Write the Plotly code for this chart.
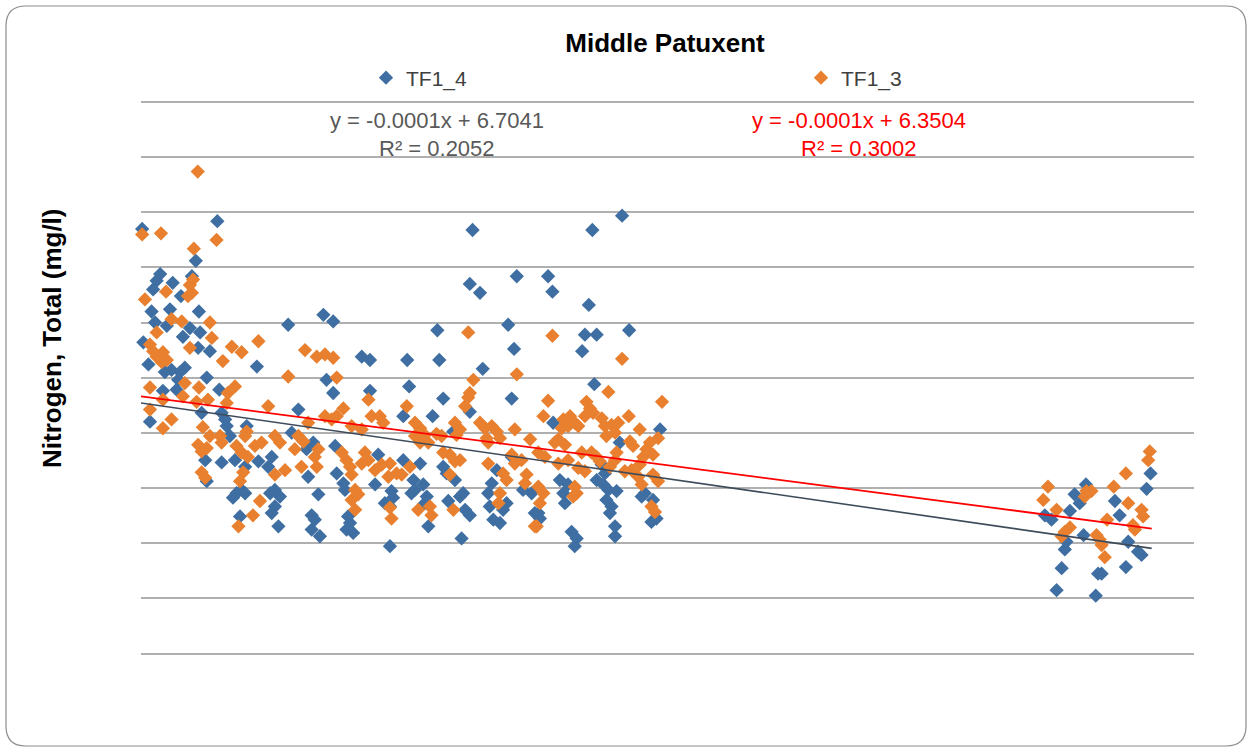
import plotly.graph_objects as go

# ---------------- data (x = decimal year, y = total nitrogen, mg/l) ----------------
tf1_4_x = [
    1986.74, 1988.66, 1988.11, 1987.20, 1987.11, 1987.02, 1987.52, 1987.73, 1988.01, 1986.98,
    1987.45, 1988.19, 1987.07, 1987.37, 1987.96, 1988.22, 1987.78, 1986.77, 1988.17, 1988.47,
    1989.67, 1986.90, 1987.32, 1987.49, 1987.71, 1987.83, 1987.66, 1988.39, 1987.27, 1987.62,
    1988.71, 1986.94, 1988.26, 1988.77, 1988.86, 1988.90, 1988.98, 1989.41, 1988.35, 1989.11,
    1989.37, 1988.77, 1989.71, 1988.39, 1989.15, 1989.28, 1989.37, 1989.06, 1989.24,
    1990.47, 1991.37, 1991.62, 1992.35, 1992.56, 1991.45, 1991.62, 1992.56, 1990.73, 1990.56,
    1991.11, 1990.94, 1991.67, 1992.77, 1990.05, 1989.96, 1990.98, 1991.71, 1991.88, 1991.92,
    1992.69, 1990.01, 1990.13, 1990.26, 1990.13, 1990.05, 1990.22, 1991.24, 1993.11, 1993.15,
    1993.07, 1992.94, 1991.07, 1991.15, 1991.07, 1991.28, 1992.00, 1992.05, 1991.96, 1992.13,
    1993.07,
    1995.18, 1995.11, 1995.37, 1996.31, 1994.28, 1996.09, 1996.24, 1993.51, 1994.33, 1995.44,
    1993.56, 1994.43, 1996.18, 1993.41, 1994.16, 1995.11, 1994.69, 1993.41, 1993.84, 1994.43,
    1994.52, 1994.73, 1993.67, 1993.71, 1993.62, 1993.92, 1994.01, 1993.96, 1994.05, 1994.56,
    1994.86, 1994.99, 1995.11, 1994.94, 1994.90, 1995.80, 1995.67, 1995.58, 1995.62, 1995.71,
    1995.96, 1996.05, 1995.88, 1996.47, 1996.69, 1996.77, 1996.18,
    1999.00, 1998.24, 1997.11, 1997.22, 1998.15, 1998.05, 1998.35, 1999.18, 1997.98, 1998.29,
    1997.24, 1999.97, 1998.94, 1998.48, 1998.56, 1998.35, 1998.52, 1998.65, 1998.86, 1997.41,
    1997.62, 1997.50, 1997.54, 1998.60, 1998.73, 1998.69, 1999.58, 1999.50, 1999.79, 1999.75,
    1999.88, 1996.86, 1996.90, 1998.82, 1998.82, 1997.71, 1997.84, 1997.79,
    2012.50, 2012.40, 2010.85, 2010.56, 2010.69, 2011.59, 2011.71, 2009.80, 2009.97, 2010.44,
    2010.79, 2010.35, 2010.31, 2011.93, 2012.18, 2012.27, 2010.23, 2011.16, 2011.25, 2011.87,
    2010.10, 2011.10,
]
tf1_4_y = [
    3.85, 3.92, 3.56, 3.44, 3.38, 3.30, 3.36, 3.24, 3.42, 3.10,
    3.12, 3.10, 3.00, 2.97, 2.95, 2.91, 2.87, 2.82, 2.77, 2.74,
    2.60, 2.62, 2.55, 2.57, 2.55, 2.59, 2.48, 2.50, 2.38, 2.39,
    2.39, 2.10, 2.18, 2.18, 2.12, 2.06, 1.97, 2.06, 1.75, 1.75,
    1.69, 1.73, 1.74, 1.56, 1.45, 1.48, 1.45, 1.41, 1.24,
    2.98, 3.07, 3.01, 2.69, 2.66, 2.48, 2.36, 2.38, 2.21, 2.00,
    1.91, 1.85, 1.88, 1.80, 1.78, 1.69, 1.60, 1.63, 1.54, 1.48,
    1.53, 1.45, 1.48, 1.42, 1.33, 1.27, 1.15, 1.44, 1.47, 1.41,
    1.33, 1.36, 1.25, 1.21, 1.12, 1.06, 1.24, 1.18, 1.12, 1.09,
    0.97,
    3.84, 3.35, 3.27, 3.42, 2.93, 2.98, 2.76, 2.66, 2.66, 2.58,
    2.42, 2.31, 2.31, 2.15, 2.15, 2.19, 2.01, 1.75, 1.72, 1.69,
    1.63, 1.57, 1.57, 1.48, 1.45, 1.53, 1.42, 1.36, 1.15, 1.38,
    1.42, 1.30, 1.25, 1.45, 1.04, 1.66, 1.54, 1.45, 1.33, 1.21,
    1.30, 1.36, 1.18, 1.48, 1.45, 1.27, 1.78,
    3.97, 3.84, 3.42, 3.28, 3.16, 2.89, 2.89, 2.93, 2.74, 2.44,
    2.09, 2.03, 1.91, 1.71, 1.63, 1.57, 1.53, 1.48, 1.47, 1.57,
    1.53, 1.45, 1.36, 1.39, 1.33, 1.27, 1.45, 1.42, 1.39, 1.19,
    1.22, 1.27, 1.22, 1.15, 1.06, 1.10, 1.04, 0.97,
    1.63, 1.49, 1.53, 1.44, 1.36, 1.38, 1.25, 1.25, 1.21, 1.29,
    1.07, 1.01, 0.94, 1.01, 0.92, 0.89, 0.77, 0.72, 0.72, 0.78,
    0.57, 0.52,
]

tf1_3_x = [
    1988.16, 1986.74, 1987.22, 1988.64, 1988.06, 1987.35, 1986.81, 1987.96, 1988.04, 1988.01,
    1987.91, 1987.49, 1987.75, 1988.47, 1987.11, 1988.52, 1986.94, 1987.02, 1987.11, 1987.27,
    1987.24, 1987.37, 1987.96, 1989.03, 1989.28, 1989.71, 1988.80, 1986.94, 1987.83, 1988.19,
    1989.11, 1988.93, 1988.90, 1987.27, 1987.78, 1988.13, 1988.42, 1986.94, 1987.27, 1987.49,
    1988.29, 1988.47, 1988.73, 1988.77, 1989.37, 1989.41, 1988.17, 1988.26, 1988.39, 1989.15,
    1989.28, 1989.44, 1989.62, 1989.79, 1988.26, 1988.35, 1989.32, 1989.24, 1989.75, 1989.57,
    1989.20,
    1990.90, 1991.20, 1991.41, 1991.62, 1990.47, 1991.71, 1992.52, 1989.96, 1991.88, 1991.41,
    1991.58, 1991.71, 1990.98, 1992.60, 1992.81, 1992.90, 1992.09, 1992.35, 1990.13, 1990.26,
    1990.73, 1990.86, 1990.64, 1991.24, 1991.15, 1991.20, 1991.84, 1991.96, 1992.05, 1992.09,
    1992.43, 1992.35, 1992.52, 1990.39, 1990.13, 1990.81, 1992.69, 1992.86, 1993.07, 1993.24,
    1993.03, 1992.18, 1992.26, 1992.09, 1992.18, 1993.07, 1993.11,
    1995.07, 1996.31, 1995.20, 1995.07, 1994.99, 1995.11, 1993.50, 1993.71, 1993.84, 1993.96,
    1993.71, 1994.05, 1993.84, 1994.26, 1994.39, 1994.73, 1994.86, 1994.77, 1995.37, 1995.50,
    1995.67, 1995.80, 1995.88, 1995.54, 1995.58, 1996.26, 1996.65, 1994.43, 1994.60, 1994.73,
    1994.86, 1995.58, 1996.18, 1993.58, 1993.37, 1994.60, 1993.79, 1994.09, 1994.13, 1994.69,
    1995.96, 1996.05, 1995.88, 1995.84, 1996.26, 1996.43, 1996.56, 1996.52, 1996.77,
    1997.22, 1999.00, 1998.65, 1997.11, 2000.02, 1998.09, 1998.18, 1998.26, 1998.05, 1996.99,
    1997.50, 1997.67, 1997.79, 1997.62, 1997.46, 1997.88, 1998.48, 1998.56, 1998.73, 1998.90,
    1998.60, 1998.82, 1999.17, 1999.45, 1999.92, 1997.28, 1997.54, 1997.37, 1999.71, 1999.62,
    1999.79, 1999.54, 1999.45, 1999.20, 1999.28, 1997.97, 1998.22, 1998.35, 1998.43, 1996.86,
    1997.03, 1998.86, 1998.82, 1998.69, 1997.37, 1997.62, 1997.88, 1998.05, 1999.07, 1999.24,
    1999.41, 1999.50, 1999.92, 1999.79, 1997.79, 1997.84, 1997.75, 1996.86, 1996.99, 1996.90,
    1996.82, 1999.75, 1999.84,
    2012.48, 2012.44, 2011.87, 2009.88, 2009.76, 2011.56, 2010.86, 2010.99, 2010.82, 2011.93,
    2012.27, 2012.31, 2010.10, 2011.39, 2012.05, 2012.10, 2010.44, 2010.31, 2010.23, 2011.12,
    2011.20, 2011.25, 2011.33,
]
tf1_3_y = [
    4.37, 3.80, 3.81, 3.75, 3.67, 3.28, 3.21, 3.34, 3.39, 3.27,
    3.24, 3.03, 3.01, 3.00, 2.91, 2.86, 2.80, 2.74, 2.69, 2.73,
    2.64, 2.66, 2.77, 2.78, 2.73, 2.83, 2.65, 2.41, 2.45, 2.41,
    2.42, 2.36, 2.27, 2.30, 2.33, 2.28, 2.30, 2.21, 2.04, 2.12,
    2.05, 1.97, 1.97, 1.91, 1.97, 2.01, 1.89, 1.83, 1.86, 1.88,
    1.82, 1.78, 1.88, 1.91, 1.64, 1.59, 1.64, 1.56, 1.38, 1.25,
    1.15,
    2.75, 2.69, 2.71, 2.68, 2.51, 2.50, 2.30, 2.24, 2.22, 2.15,
    2.12, 2.15, 2.09, 2.15, 2.15, 2.09, 2.06, 2.03, 1.97, 1.91,
    1.97, 1.92, 1.85, 1.85, 1.78, 1.69, 1.82, 1.75, 1.69, 1.62,
    1.82, 1.72, 1.75, 1.66, 1.62, 1.69, 1.66, 1.71, 1.72, 1.63,
    1.60, 1.48, 1.44, 1.39, 1.30, 1.32, 1.22,
    2.91, 2.53, 2.48, 2.32, 2.24, 2.36, 2.24, 2.09, 2.04, 1.98,
    1.97, 1.91, 1.91, 1.99, 1.97, 2.09, 2.03, 1.98, 2.09, 2.04,
    2.06, 2.01, 1.95, 1.95, 1.91, 2.03, 1.94, 1.82, 1.80, 1.74,
    1.75, 1.72, 1.80, 1.69, 1.62, 1.62, 1.30, 1.33, 1.25, 1.30,
    1.63, 1.57, 1.45, 1.36, 1.72, 1.75, 1.62, 1.54, 1.15,
    2.88, 2.67, 2.37, 2.29, 2.28, 2.28, 2.22, 2.18, 2.15, 2.15,
    2.12, 2.15, 2.09, 2.06, 2.04, 2.06, 2.13, 2.06, 2.07, 2.09,
    1.97, 2.00, 2.15, 2.03, 1.95, 1.91, 1.89, 1.94, 1.91, 1.85,
    1.80, 1.78, 1.71, 1.92, 1.88, 1.82, 1.82, 1.78, 1.74, 1.82,
    1.78, 1.82, 1.75, 1.69, 1.72, 1.75, 1.68, 1.65, 1.65, 1.66,
    1.60, 1.53, 1.56, 1.62, 1.51, 1.45, 1.42, 1.51, 1.45, 1.36,
    1.15, 1.33, 1.28,
    1.83, 1.75, 1.63, 1.51, 1.39, 1.51, 1.47, 1.47, 1.42, 1.36,
    1.30, 1.24, 1.30, 1.21, 1.16, 1.12, 1.14, 1.10, 1.06, 1.07,
    1.03, 0.98, 0.87,
]

# linear trendlines (end points)
trend_x = [1986.71, 2012.53]
tf1_4_trend = [2.27, 0.95]
tf1_3_trend = [2.33, 1.13]

series_names = ["TF1_4", "TF1_3"]
eq_tf1_4 = ["y = -0.0001x + 6.7041", "R² = 0.2052"]
eq_tf1_3 = ["y = -0.0001x + 6.3504", "R² = 0.3002"]

# ---------------- styling ----------------
BLUE = "#3F6FA2"
ORANGE = "#E8802F"
FONT = "Liberation Sans, Arial, sans-serif"
W, H = 1251, 751
ML, MR, MT, MB = 141, 57, 100, 98
PW, PH = W - ML - MR, H - MT - MB
Y_MAX = 5.02


def px_x(p):
    return (p - ML) / PW


def px_y(p):
    return (H - MB - p) / PH


fig = go.Figure()

fig.add_trace(go.Scatter(
    x=tf1_4_x, y=tf1_4_y, mode="markers", name=series_names[0],
    marker=dict(symbol="diamond", size=11, color=BLUE, line=dict(width=0)),
    cliponaxis=False,
))
fig.add_trace(go.Scatter(
    x=tf1_3_x, y=tf1_3_y, mode="markers", name=series_names[1],
    marker=dict(symbol="diamond", size=11, color=ORANGE, line=dict(width=0)),
    cliponaxis=False,
))
fig.add_trace(go.Scatter(
    x=trend_x, y=tf1_4_trend, mode="lines", showlegend=False,
    line=dict(color="#3E4B5B", width=1.6),
))
fig.add_trace(go.Scatter(
    x=trend_x, y=tf1_3_trend, mode="lines", showlegend=False,
    line=dict(color="#FF0000", width=1.8),
))

x0, x1 = px_x(6), px_x(1246)
yb, yt = px_y(746), px_y(6)
rx, ry = 20 / PW, 20 / PH
border = (f"M {x0+rx},{yt} L {x1-rx},{yt} Q {x1},{yt} {x1},{yt-ry} "
          f"L {x1},{yb+ry} Q {x1},{yb} {x1-rx},{yb} L {x0+rx},{yb} "
          f"Q {x0},{yb} {x0},{yb+ry} L {x0},{yt-ry} Q {x0},{yt} {x0+rx},{yt} Z")


def label(text, cx, cy, size, color, angle=0):
    return dict(text=text, xref="paper", yref="paper", x=px_x(cx), y=px_y(cy),
                xanchor="center", yanchor="middle", textangle=angle,
                showarrow=False, font=dict(family=FONT, size=size, color=color))


annotations = [
    label("<b>Nitrogen, Total (mg/l)</b>", 52, 338, 26, "#000000", -90),
    label(eq_tf1_4[0], 437, 121, 22, "#595959"),
    label(eq_tf1_4[1], 437, 148, 22, "#595959"),
    label(eq_tf1_3[0], 859, 121, 22, "#FF0000"),
    label(eq_tf1_3[1], 859, 148, 22, "#FF0000"),
]

fig.update_layout(
    width=W, height=H,
    margin=dict(l=ML, r=MR, t=MT, b=MB, pad=0),
    paper_bgcolor="white", plot_bgcolor="white",
    title=dict(text="<b>Middle Patuxent</b>", x=665 / W,
               xanchor="center", xref="container", yref="container",
               y=1 - 43 / H, yanchor="middle",
               font=dict(family=FONT, size=26, color="#000000")),
    legend=dict(orientation="h", x=px_x(366), xanchor="left",
                y=px_y(78), yanchor="middle",
                entrywidth=390, entrywidthmode="pixels",
                font=dict(family=FONT, size=21, color="#404040"),
                bgcolor="rgba(0,0,0,0)", itemwidth=30),
    xaxis=dict(range=[1986.71, 2013.61], showgrid=False, zeroline=False,
               showticklabels=False, ticks="", showline=True,
               linecolor="#B0B0B0", linewidth=1.5),
    yaxis=dict(range=[0, Y_MAX], dtick=0.5, tick0=0, showgrid=True,
               gridcolor="#B0B0B0", gridwidth=1.5, zeroline=False,
               showticklabels=False, ticks="", showline=False),
    annotations=annotations,
    shapes=[dict(type="path", path=border, xref="paper", yref="paper",
                 line=dict(color="#8C8C8C", width=1.2), layer="below")],
)

fig.write_html("out.html")
